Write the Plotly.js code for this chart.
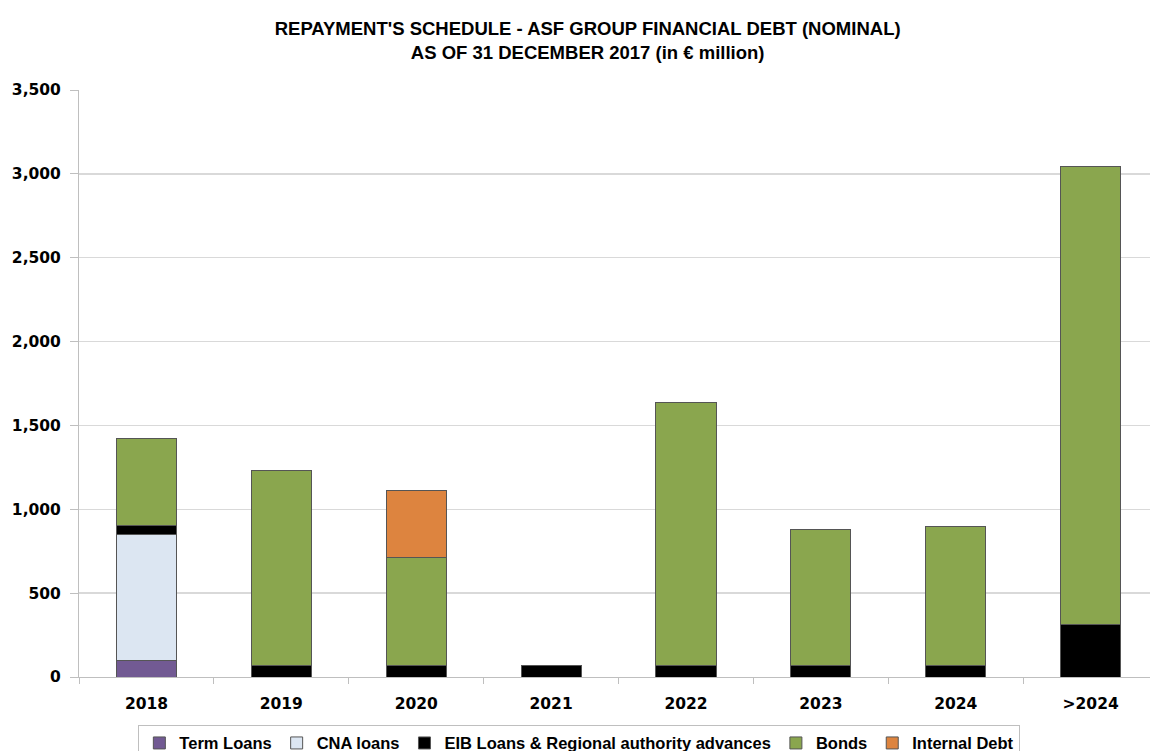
<!DOCTYPE html>
<html>
<head>
<meta charset="utf-8">
<script src="https://cdn.plot.ly/plotly-3.0.1.min.js"></script>
<style>
  html, body { margin: 0; padding: 0; background: #ffffff; }
  #chart { width: 1150px; height: 751px; }
</style>
</head>
<body>
<div id="chart"></div>
<script>
const years = ["2018", "2019", "2020", "2021", "2022", "2023", "2024", ">2024"];
const termLoans = [100, null, null, null, null, null, null, null];
const cnaLoans = [750, null, null, null, null, null, null, null];
const eibLoans = [54, 67, 67, 68, 67, 67, 67, 316];
const bonds = [516, 1167, 647, null, 1567, 810, 833, 2730];
const internalDebt = [null, null, 399, null, null, null, null, null];

const textFont = "Liberation Sans, Arial, sans-serif";
const tickFont = { family: "DejaVu Sans, Verdana, sans-serif", size: 15.5, color: "#000000", weight: "bold" };
const outline = { color: "#555555", width: 1 };

function barTrace(name, values, color) {
  return {
    type: "bar",
    name: name,
    x: years,
    y: values,
    marker: { color: color, line: outline },
    hoverinfo: "x+y+name",
  };
}

const traces = [
  barTrace("Term Loans", termLoans, "#725A93"),
  barTrace("CNA loans", cnaLoans, "#DCE6F2"),
  barTrace("EIB Loans & Regional authority advances", eibLoans, "#000000"),
  barTrace("Bonds", bonds, "#8AA64E"),
  barTrace("Internal Debt", internalDebt, "#DD843F"),
];

const layout = {
  width: 1150,
  height: 751,
  barmode: "stack",
  bargap: 0.555,
  margin: { l: 79, r: 0, t: 90, b: 74 },
  paper_bgcolor: "#ffffff",
  plot_bgcolor: "#ffffff",
  title: {
    text: "REPAYMENT'S SCHEDULE - ASF GROUP FINANCIAL DEBT (NOMINAL)<br>AS OF 31 DECEMBER 2017 (in € million)",
    font: { family: textFont, size: 18.5, color: "#000000", weight: "bold" },
    x: 0.511,
    xanchor: "center",
    y: 0.953,
    yanchor: "top",
  },
  xaxis: {
    type: "category",
    range: [-0.5, 7.44],
    tickson: "boundaries",
    ticks: "outside",
    ticklen: 6,
    tickcolor: "#BFBFBF",
    showline: true,
    linecolor: "#BFBFBF",
    linewidth: 1,
    tickfont: tickFont,
    ticklabelstandoff: 12,
    showgrid: false,
    automargin: false,
  },
  yaxis: {
    range: [0, 3500],
    dtick: 500,
    tickformat: ",d",
    ticks: "outside",
    ticklen: 8,
    tickcolor: "#BFBFBF",
    showline: true,
    linecolor: "#BFBFBF",
    linewidth: 1,
    gridcolor: "#D9D9D9",
    gridwidth: 1.5,
    zeroline: false,
    tickfont: tickFont,
    ticklabelstandoff: 6,
    automargin: false,
  },
  showlegend: true,
  legend: {
    orientation: "h",
    xref: "container",
    yref: "container",
    x: 0.1203,
    xanchor: "left",
    y: 0.035,
    yanchor: "top",
    bordercolor: "#BFBFBF",
    borderwidth: 1,
    font: { family: textFont, size: 16.5, color: "#000000", weight: "bold" },
    traceorder: "normal",
    itemwidth: 30,
  },
};

Plotly.newPlot("chart", traces, layout, { displayModeBar: false, staticPlot: true });
</script>
</body>
</html>
